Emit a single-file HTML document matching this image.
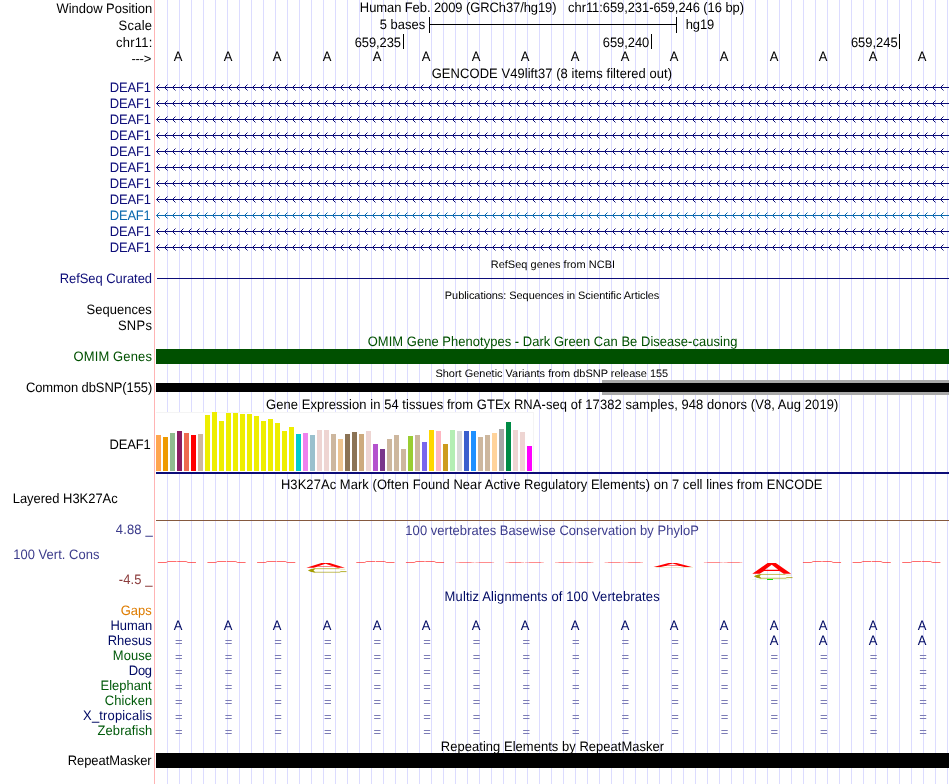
<!DOCTYPE html>
<html><head><meta charset="utf-8"><title>UCSC Genome Browser</title>
<style>
html,body{margin:0;padding:0;background:#fff;}
body{width:950px;height:784px;overflow:hidden;position:relative;font-family:"Liberation Sans",sans-serif;}
svg{position:absolute;left:0;top:0;}
#tx{position:absolute;left:0;top:0;width:950px;height:784px;will-change:transform;}
.t{position:absolute;white-space:pre;font-size:13px;line-height:16px;height:16px;color:#000;transform-origin:0 12px;}
.s{font-size:11px;}
.b{color:#000a64;width:40px;text-align:center;transform:translateY(.7px) scaleY(1.05) skewX(.3deg);}
.b2{transform:translateY(0px) scaleY(1.05) skewX(.3deg);}
.e{color:#7c7cb6;}
</style></head><body>
<svg width="950" height="784" viewBox="0 0 950 784">
<path d="M167.5,0V784M179.5,0V784M191.5,0V784M203.5,0V784M215.5,0V784M227.5,0V784M239.5,0V784M251.5,0V784M263.5,0V784M275.5,0V784M287.5,0V784M299.5,0V784M311.5,0V784M323.5,0V784M335.5,0V784M347.5,0V784M359.5,0V784M371.5,0V784M383.5,0V784M395.5,0V784M407.5,0V784M419.5,0V784M431.5,0V784M443.5,0V784M455.5,0V784M467.5,0V784M479.5,0V784M491.5,0V784M503.5,0V784M515.5,0V784M527.5,0V784M539.5,0V784M551.5,0V784M563.5,0V784M575.5,0V784M587.5,0V784M599.5,0V784M611.5,0V784M623.5,0V784M635.5,0V784M647.5,0V784M659.5,0V784M671.5,0V784M683.5,0V784M695.5,0V784M707.5,0V784M719.5,0V784M731.5,0V784M743.5,0V784M755.5,0V784M767.5,0V784M779.5,0V784M791.5,0V784M803.5,0V784M815.5,0V784M827.5,0V784M839.5,0V784M851.5,0V784M863.5,0V784M875.5,0V784M887.5,0V784M899.5,0V784M911.5,0V784M923.5,0V784M935.5,0V784M947.5,0V784" stroke="#dcdcff" stroke-width="1" fill="none" shape-rendering="crispEdges"/>
<rect x="154" y="0" width="1" height="784" fill="#ffb4b4" shape-rendering="crispEdges"/>
<rect x="156" y="412" width="378" height="60" fill="#fff" shape-rendering="crispEdges"/>
<path d="M156,412.5H533.5V472" stroke="#f4f4f4" fill="none" shape-rendering="crispEdges"/>
</svg>
<div id="tx">
<div id="t1" class="t" style="left:56px;top:0px;transform:translate(0.39px,0.80px) scaleY(1.05) skewX(.3deg);letter-spacing:-0.019px;">Window Position</div>
<div id="t2" class="t" style="left:118px;top:17px;transform:translate(0.54px,0.80px) scaleY(1.05) skewX(.3deg);letter-spacing:0.250px;">Scale</div>
<div id="t3" class="t" style="left:116px;top:34px;transform:translate(0.05px,0.70px) scaleY(1.05) skewX(.3deg);letter-spacing:0.250px;">chr11:</div>
<div id="t4" class="t n" style="left:131.45px;top:51px;letter-spacing:-0.250px;">---&gt;</div>
<div id="t5" class="t" style="left:109px;top:79px;transform:translate(0.83px,0.50px) scaleY(1.05) skewX(.3deg);letter-spacing:-0.190px;color:#0c0c78;">DEAF1</div>
<div id="t6" class="t" style="left:109px;top:95px;transform:translate(0.83px,0.50px) scaleY(1.05) skewX(.3deg);letter-spacing:-0.190px;color:#0c0c78;">DEAF1</div>
<div id="t7" class="t" style="left:109px;top:111px;transform:translate(0.83px,0.50px) scaleY(1.05) skewX(.3deg);letter-spacing:-0.190px;color:#0c0c78;">DEAF1</div>
<div id="t8" class="t" style="left:109px;top:127px;transform:translate(0.83px,0.50px) scaleY(1.05) skewX(.3deg);letter-spacing:-0.190px;color:#0c0c78;">DEAF1</div>
<div id="t9" class="t" style="left:109px;top:143px;transform:translate(0.83px,0.50px) scaleY(1.05) skewX(.3deg);letter-spacing:-0.190px;color:#0c0c78;">DEAF1</div>
<div id="t10" class="t" style="left:109px;top:159px;transform:translate(0.83px,0.50px) scaleY(1.05) skewX(.3deg);letter-spacing:-0.190px;color:#0c0c78;">DEAF1</div>
<div id="t11" class="t" style="left:109px;top:175px;transform:translate(0.83px,0.50px) scaleY(1.05) skewX(.3deg);letter-spacing:-0.190px;color:#0c0c78;">DEAF1</div>
<div id="t12" class="t" style="left:109px;top:191px;transform:translate(0.83px,0.50px) scaleY(1.05) skewX(.3deg);letter-spacing:-0.190px;color:#0c0c78;">DEAF1</div>
<div id="t13" class="t" style="left:109px;top:207px;transform:translate(0.82px,0.50px) scaleY(1.05) skewX(.3deg);letter-spacing:-0.250px;color:#0b69ae;">DEAF1</div>
<div id="t14" class="t" style="left:109px;top:223px;transform:translate(0.83px,0.50px) scaleY(1.05) skewX(.3deg);letter-spacing:-0.190px;color:#0c0c78;">DEAF1</div>
<div id="t15" class="t" style="left:109px;top:239px;transform:translate(0.83px,0.50px) scaleY(1.05) skewX(.3deg);letter-spacing:-0.190px;color:#0c0c78;">DEAF1</div>
<div id="t16" class="t" style="left:59px;top:270px;transform:translate(0.65px,0.80px) scaleY(1.05) skewX(.3deg);letter-spacing:-0.062px;color:#0c0c78;">RefSeq Curated</div>
<div id="t17" class="t" style="left:86px;top:301px;transform:translate(0.49px,0.80px) scaleY(1.05) skewX(.3deg);letter-spacing:0.041px;">Sequences</div>
<div id="t18" class="t" style="left:117px;top:317px;transform:translate(0.92px,0.80px) scaleY(1.05) skewX(.3deg);letter-spacing:0.250px;">SNPs</div>
<div id="t19" class="t" style="left:73px;top:349px;transform:translate(0.55px,0.00px) scaleY(1.05) skewX(.3deg);letter-spacing:0.115px;color:#005000;">OMIM Genes</div>
<div id="t20" class="t" style="left:25px;top:380px;transform:translate(0.94px,0.00px) scaleY(1.05) skewX(.3deg);letter-spacing:-0.100px;">Common dbSNP(155)</div>
<div id="t21" class="t" style="left:109px;top:436px;transform:translate(0.54px,0.80px) scaleY(1.05) skewX(.3deg);letter-spacing:-0.163px;">DEAF1</div>
<div id="t22" class="t" style="left:12px;top:490px;transform:translate(0.73px,0.90px) scaleY(1.05) skewX(.3deg);letter-spacing:-0.037px;">Layered H3K27Ac</div>
<div id="t23" class="t" style="left:115px;top:522px;transform:translate(0.76px,0.00px) scaleY(1.05) skewX(.3deg);letter-spacing:0.159px;color:#3c3c8c;">4.88 _</div>
<div id="t24" class="t" style="left:13px;top:546px;transform:translate(0.15px,0.80px) scaleY(1.05) skewX(.3deg);letter-spacing:0.023px;color:#3c3c8c;">100 Vert. Cons</div>
<div id="t25" class="t" style="left:118px;top:572px;transform:translate(0.70px,0.00px) scaleY(1.05) skewX(.3deg);letter-spacing:0.123px;color:#8c3c3c;">-4.5 _</div>
<div id="t26" class="t" style="left:120px;top:602px;transform:translate(0.66px,0.60px) scaleY(1.05) skewX(.3deg);letter-spacing:0.023px;color:#de7c00;">Gaps</div>
<div id="t27" class="t" style="left:110px;top:617px;transform:translate(0.38px,0.80px) scaleY(1.05) skewX(.3deg);letter-spacing:-0.015px;color:#000a64;">Human</div>
<div id="t28" class="t" style="left:107px;top:632px;transform:translate(0.64px,0.80px) scaleY(1.05) skewX(.3deg);letter-spacing:0.030px;color:#000a64;">Rhesus</div>
<div id="t29" class="t" style="left:112px;top:647px;transform:translate(0.80px,0.80px) scaleY(1.05) skewX(.3deg);letter-spacing:0.059px;color:#005a0a;">Mouse</div>
<div id="t30" class="t" style="left:128px;top:662px;transform:translate(0.75px,0.80px) scaleY(1.05) skewX(.3deg);letter-spacing:-0.250px;color:#000a64;">Dog</div>
<div id="t31" class="t" style="left:100px;top:677px;transform:translate(0.60px,0.80px) scaleY(1.05) skewX(.3deg);letter-spacing:-0.039px;color:#005a0a;">Elephant</div>
<div id="t32" class="t" style="left:104px;top:692px;transform:translate(0.70px,0.80px) scaleY(1.05) skewX(.3deg);letter-spacing:0.091px;color:#005a0a;">Chicken</div>
<div id="t33" class="t" style="left:83px;top:707px;transform:translate(0.10px,0.80px) scaleY(1.05) skewX(.3deg);letter-spacing:0.151px;color:#000a64;">X_tropicalis</div>
<div id="t34" class="t" style="left:97px;top:722px;transform:translate(0.59px,0.80px) scaleY(1.05) skewX(.3deg);letter-spacing:0.050px;color:#005a0a;">Zebrafish</div>
<div id="t35" class="t" style="left:67px;top:752px;transform:translate(0.67px,0.70px) scaleY(1.05) skewX(.3deg);letter-spacing:-0.049px;">RepeatMasker</div>
<div id="t36" class="t" style="left:359px;top:-1px;transform:translate(0.84px,0.70px) scaleY(1.05) skewX(.3deg);letter-spacing:-0.097px;">Human Feb. 2009 (GRCh37/hg19)</div>
<div id="t37" class="t" style="left:568px;top:-1px;transform:translate(0.06px,0.70px) scaleY(1.05) skewX(.3deg);letter-spacing:-0.081px;">chr11:659,231-659,246 (16 bp)</div>
<div id="t38" class="t" style="left:431px;top:65px;transform:translate(0.70px,0.80px) scaleY(1.05) skewX(.3deg);letter-spacing:0.051px;">GENCODE V49lift37 (8 items filtered out)</div>
<div id="t39" class="t s" style="left:490px;top:255px;transform:translate(0.68px,0.60px) scaleY(.98) skewX(.3deg);letter-spacing:0.012px;">RefSeq genes from NCBI</div>
<div id="t40" class="t s" style="left:444px;top:286px;transform:translate(0.81px,0.70px) scaleY(.98) skewX(.3deg);letter-spacing:-0.069px;">Publications: Sequences in Scientific Articles</div>
<div id="t41" class="t" style="left:367px;top:334px;transform:translate(0.65px,0.50px) scaleY(1.05) skewX(.3deg);letter-spacing:0.023px;color:#005000;">OMIM Gene Phenotypes - Dark Green Can Be Disease-causing</div>
<div id="t42" class="t s" style="left:435px;top:364px;transform:translate(0.39px,0.60px) scaleY(.98) skewX(.3deg);letter-spacing:-0.007px;">Short Genetic Variants from dbSNP release 155</div>
<div id="t43" class="t" style="left:266px;top:396px;transform:translate(0.00px,0.60px) scaleY(1.05) skewX(.3deg);letter-spacing:0.056px;">Gene Expression in 54 tissues from GTEx RNA-seq of 17382 samples, 948 donors (V8, Aug 2019)</div>
<div id="t44" class="t" style="left:280px;top:476px;transform:translate(0.92px,0.70px) scaleY(1.05) skewX(.3deg);letter-spacing:0.048px;">H3K27Ac Mark (Often Found Near Active Regulatory Elements) on 7 cell lines from ENCODE</div>
<div id="t45" class="t" style="left:405px;top:522px;transform:translate(0.35px,0.50px) scaleY(1.05) skewX(.3deg);letter-spacing:0.035px;color:#3c3c8c;">100 vertebrates Basewise Conservation by PhyloP</div>
<div id="t46" class="t" style="left:444px;top:588px;transform:translate(0.60px,0.60px) scaleY(1.05) skewX(.3deg);letter-spacing:0.115px;color:#000a64;">Multiz Alignments of 100 Vertebrates</div>
<div id="t47" class="t" style="left:440px;top:738px;transform:translate(0.83px,0.70px) scaleY(1.05) skewX(.3deg);letter-spacing:0.024px;">Repeating Elements by RepeatMasker</div>
<div id="t48" class="t" style="left:379px;top:16px;transform:translate(0.77px,0.90px) scaleY(1.05) skewX(.3deg);letter-spacing:-0.019px;">5 bases</div>
<div id="t49" class="t" style="left:685px;top:16px;transform:translate(0.78px,0.90px) scaleY(1.05) skewX(.3deg);letter-spacing:-0.151px;">hg19</div>
<div id="t50" class="t" style="left:354px;top:34px;transform:translate(0.74px,0.80px) scaleY(1.05) skewX(.3deg);letter-spacing:-0.121px;">659,235</div>
<div id="t51" class="t" style="left:602px;top:34px;transform:translate(0.82px,0.80px) scaleY(1.05) skewX(.3deg);letter-spacing:-0.089px;">659,240</div>
<div id="t52" class="t" style="left:850px;top:34px;transform:translate(0.90px,0.80px) scaleY(1.05) skewX(.3deg);letter-spacing:-0.036px;">659,245</div>
<div class="t b" style="left:158.00px;top:48px;color:#000">A</div>
<div class="t b b2" style="left:158.00px;top:618px">A</div>
<div class="t b e" style="left:158.80px;top:634px;transform:none">=</div>
<div class="t b e" style="left:158.80px;top:649px;transform:none">=</div>
<div class="t b e" style="left:158.80px;top:664px;transform:none">=</div>
<div class="t b e" style="left:158.80px;top:679px;transform:none">=</div>
<div class="t b e" style="left:158.80px;top:694px;transform:none">=</div>
<div class="t b e" style="left:158.80px;top:709px;transform:none">=</div>
<div class="t b e" style="left:158.80px;top:724px;transform:none">=</div>
<div class="t b" style="left:207.62px;top:48px;color:#000">A</div>
<div class="t b b2" style="left:207.62px;top:618px">A</div>
<div class="t b e" style="left:208.43px;top:634px;transform:none">=</div>
<div class="t b e" style="left:208.43px;top:649px;transform:none">=</div>
<div class="t b e" style="left:208.43px;top:664px;transform:none">=</div>
<div class="t b e" style="left:208.43px;top:679px;transform:none">=</div>
<div class="t b e" style="left:208.43px;top:694px;transform:none">=</div>
<div class="t b e" style="left:208.43px;top:709px;transform:none">=</div>
<div class="t b e" style="left:208.43px;top:724px;transform:none">=</div>
<div class="t b" style="left:257.25px;top:48px;color:#000">A</div>
<div class="t b b2" style="left:257.25px;top:618px">A</div>
<div class="t b e" style="left:258.05px;top:634px;transform:none">=</div>
<div class="t b e" style="left:258.05px;top:649px;transform:none">=</div>
<div class="t b e" style="left:258.05px;top:664px;transform:none">=</div>
<div class="t b e" style="left:258.05px;top:679px;transform:none">=</div>
<div class="t b e" style="left:258.05px;top:694px;transform:none">=</div>
<div class="t b e" style="left:258.05px;top:709px;transform:none">=</div>
<div class="t b e" style="left:258.05px;top:724px;transform:none">=</div>
<div class="t b" style="left:306.88px;top:48px;color:#000">A</div>
<div class="t b b2" style="left:306.88px;top:618px">A</div>
<div class="t b e" style="left:307.68px;top:634px;transform:none">=</div>
<div class="t b e" style="left:307.68px;top:649px;transform:none">=</div>
<div class="t b e" style="left:307.68px;top:664px;transform:none">=</div>
<div class="t b e" style="left:307.68px;top:679px;transform:none">=</div>
<div class="t b e" style="left:307.68px;top:694px;transform:none">=</div>
<div class="t b e" style="left:307.68px;top:709px;transform:none">=</div>
<div class="t b e" style="left:307.68px;top:724px;transform:none">=</div>
<div class="t b" style="left:356.50px;top:48px;color:#000">A</div>
<div class="t b b2" style="left:356.50px;top:618px">A</div>
<div class="t b e" style="left:357.30px;top:634px;transform:none">=</div>
<div class="t b e" style="left:357.30px;top:649px;transform:none">=</div>
<div class="t b e" style="left:357.30px;top:664px;transform:none">=</div>
<div class="t b e" style="left:357.30px;top:679px;transform:none">=</div>
<div class="t b e" style="left:357.30px;top:694px;transform:none">=</div>
<div class="t b e" style="left:357.30px;top:709px;transform:none">=</div>
<div class="t b e" style="left:357.30px;top:724px;transform:none">=</div>
<div class="t b" style="left:406.12px;top:48px;color:#000">A</div>
<div class="t b b2" style="left:406.12px;top:618px">A</div>
<div class="t b e" style="left:406.93px;top:634px;transform:none">=</div>
<div class="t b e" style="left:406.93px;top:649px;transform:none">=</div>
<div class="t b e" style="left:406.93px;top:664px;transform:none">=</div>
<div class="t b e" style="left:406.93px;top:679px;transform:none">=</div>
<div class="t b e" style="left:406.93px;top:694px;transform:none">=</div>
<div class="t b e" style="left:406.93px;top:709px;transform:none">=</div>
<div class="t b e" style="left:406.93px;top:724px;transform:none">=</div>
<div class="t b" style="left:455.75px;top:48px;color:#000">A</div>
<div class="t b b2" style="left:455.75px;top:618px">A</div>
<div class="t b e" style="left:456.55px;top:634px;transform:none">=</div>
<div class="t b e" style="left:456.55px;top:649px;transform:none">=</div>
<div class="t b e" style="left:456.55px;top:664px;transform:none">=</div>
<div class="t b e" style="left:456.55px;top:679px;transform:none">=</div>
<div class="t b e" style="left:456.55px;top:694px;transform:none">=</div>
<div class="t b e" style="left:456.55px;top:709px;transform:none">=</div>
<div class="t b e" style="left:456.55px;top:724px;transform:none">=</div>
<div class="t b" style="left:505.38px;top:48px;color:#000">A</div>
<div class="t b b2" style="left:505.38px;top:618px">A</div>
<div class="t b e" style="left:506.18px;top:634px;transform:none">=</div>
<div class="t b e" style="left:506.18px;top:649px;transform:none">=</div>
<div class="t b e" style="left:506.18px;top:664px;transform:none">=</div>
<div class="t b e" style="left:506.18px;top:679px;transform:none">=</div>
<div class="t b e" style="left:506.18px;top:694px;transform:none">=</div>
<div class="t b e" style="left:506.18px;top:709px;transform:none">=</div>
<div class="t b e" style="left:506.18px;top:724px;transform:none">=</div>
<div class="t b" style="left:555.00px;top:48px;color:#000">A</div>
<div class="t b b2" style="left:555.00px;top:618px">A</div>
<div class="t b e" style="left:555.80px;top:634px;transform:none">=</div>
<div class="t b e" style="left:555.80px;top:649px;transform:none">=</div>
<div class="t b e" style="left:555.80px;top:664px;transform:none">=</div>
<div class="t b e" style="left:555.80px;top:679px;transform:none">=</div>
<div class="t b e" style="left:555.80px;top:694px;transform:none">=</div>
<div class="t b e" style="left:555.80px;top:709px;transform:none">=</div>
<div class="t b e" style="left:555.80px;top:724px;transform:none">=</div>
<div class="t b" style="left:604.62px;top:48px;color:#000">A</div>
<div class="t b b2" style="left:604.62px;top:618px">A</div>
<div class="t b e" style="left:605.42px;top:634px;transform:none">=</div>
<div class="t b e" style="left:605.42px;top:649px;transform:none">=</div>
<div class="t b e" style="left:605.42px;top:664px;transform:none">=</div>
<div class="t b e" style="left:605.42px;top:679px;transform:none">=</div>
<div class="t b e" style="left:605.42px;top:694px;transform:none">=</div>
<div class="t b e" style="left:605.42px;top:709px;transform:none">=</div>
<div class="t b e" style="left:605.42px;top:724px;transform:none">=</div>
<div class="t b" style="left:654.25px;top:48px;color:#000">A</div>
<div class="t b b2" style="left:654.25px;top:618px">A</div>
<div class="t b e" style="left:655.05px;top:634px;transform:none">=</div>
<div class="t b e" style="left:655.05px;top:649px;transform:none">=</div>
<div class="t b e" style="left:655.05px;top:664px;transform:none">=</div>
<div class="t b e" style="left:655.05px;top:679px;transform:none">=</div>
<div class="t b e" style="left:655.05px;top:694px;transform:none">=</div>
<div class="t b e" style="left:655.05px;top:709px;transform:none">=</div>
<div class="t b e" style="left:655.05px;top:724px;transform:none">=</div>
<div class="t b" style="left:703.88px;top:48px;color:#000">A</div>
<div class="t b b2" style="left:703.88px;top:618px">A</div>
<div class="t b e" style="left:704.67px;top:634px;transform:none">=</div>
<div class="t b e" style="left:704.67px;top:649px;transform:none">=</div>
<div class="t b e" style="left:704.67px;top:664px;transform:none">=</div>
<div class="t b e" style="left:704.67px;top:679px;transform:none">=</div>
<div class="t b e" style="left:704.67px;top:694px;transform:none">=</div>
<div class="t b e" style="left:704.67px;top:709px;transform:none">=</div>
<div class="t b e" style="left:704.67px;top:724px;transform:none">=</div>
<div class="t b" style="left:753.50px;top:48px;color:#000">A</div>
<div class="t b b2" style="left:753.50px;top:618px">A</div>
<div class="t b b2" style="left:753.50px;top:633px">A</div>
<div class="t b e" style="left:754.30px;top:649px;transform:none">=</div>
<div class="t b e" style="left:754.30px;top:664px;transform:none">=</div>
<div class="t b e" style="left:754.30px;top:679px;transform:none">=</div>
<div class="t b e" style="left:754.30px;top:694px;transform:none">=</div>
<div class="t b e" style="left:754.30px;top:709px;transform:none">=</div>
<div class="t b e" style="left:754.30px;top:724px;transform:none">=</div>
<div class="t b" style="left:803.12px;top:48px;color:#000">A</div>
<div class="t b b2" style="left:803.12px;top:618px">A</div>
<div class="t b b2" style="left:803.12px;top:633px">A</div>
<div class="t b e" style="left:803.92px;top:649px;transform:none">=</div>
<div class="t b e" style="left:803.92px;top:664px;transform:none">=</div>
<div class="t b e" style="left:803.92px;top:679px;transform:none">=</div>
<div class="t b e" style="left:803.92px;top:694px;transform:none">=</div>
<div class="t b e" style="left:803.92px;top:709px;transform:none">=</div>
<div class="t b e" style="left:803.92px;top:724px;transform:none">=</div>
<div class="t b" style="left:852.75px;top:48px;color:#000">A</div>
<div class="t b b2" style="left:852.75px;top:618px">A</div>
<div class="t b b2" style="left:852.75px;top:633px">A</div>
<div class="t b e" style="left:853.55px;top:649px;transform:none">=</div>
<div class="t b e" style="left:853.55px;top:664px;transform:none">=</div>
<div class="t b e" style="left:853.55px;top:679px;transform:none">=</div>
<div class="t b e" style="left:853.55px;top:694px;transform:none">=</div>
<div class="t b e" style="left:853.55px;top:709px;transform:none">=</div>
<div class="t b e" style="left:853.55px;top:724px;transform:none">=</div>
<div class="t b" style="left:902.38px;top:48px;color:#000">A</div>
<div class="t b b2" style="left:902.38px;top:618px">A</div>
<div class="t b b2" style="left:902.38px;top:633px">A</div>
<div class="t b e" style="left:903.17px;top:649px;transform:none">=</div>
<div class="t b e" style="left:903.17px;top:664px;transform:none">=</div>
<div class="t b e" style="left:903.17px;top:679px;transform:none">=</div>
<div class="t b e" style="left:903.17px;top:694px;transform:none">=</div>
<div class="t b e" style="left:903.17px;top:709px;transform:none">=</div>
<div class="t b e" style="left:903.17px;top:724px;transform:none">=</div>
</div>
<svg width="950" height="784" viewBox="0 0 950 784">
<path d="M429.5,17V33M429,24.5H677M676.5,17V33M403.5,34V49M651.5,34V49M899.5,34V49" stroke="#000" stroke-width="1" shape-rendering="crispEdges"/>
<defs><path id="bb" d="M159.5,-2.5L156.5,.5L159.5,3.5M167.5,-2.5L164.5,.5L167.5,3.5M175.5,-2.5L172.5,.5L175.5,3.5M183.5,-2.5L180.5,.5L183.5,3.5M191.5,-2.5L188.5,.5L191.5,3.5M199.5,-2.5L196.5,.5L199.5,3.5M207.5,-2.5L204.5,.5L207.5,3.5M215.5,-2.5L212.5,.5L215.5,3.5M223.5,-2.5L220.5,.5L223.5,3.5M231.5,-2.5L228.5,.5L231.5,3.5M239.5,-2.5L236.5,.5L239.5,3.5M247.5,-2.5L244.5,.5L247.5,3.5M255.5,-2.5L252.5,.5L255.5,3.5M263.5,-2.5L260.5,.5L263.5,3.5M271.5,-2.5L268.5,.5L271.5,3.5M279.5,-2.5L276.5,.5L279.5,3.5M287.5,-2.5L284.5,.5L287.5,3.5M295.5,-2.5L292.5,.5L295.5,3.5M303.5,-2.5L300.5,.5L303.5,3.5M311.5,-2.5L308.5,.5L311.5,3.5M319.5,-2.5L316.5,.5L319.5,3.5M327.5,-2.5L324.5,.5L327.5,3.5M335.5,-2.5L332.5,.5L335.5,3.5M343.5,-2.5L340.5,.5L343.5,3.5M351.5,-2.5L348.5,.5L351.5,3.5M359.5,-2.5L356.5,.5L359.5,3.5M367.5,-2.5L364.5,.5L367.5,3.5M375.5,-2.5L372.5,.5L375.5,3.5M383.5,-2.5L380.5,.5L383.5,3.5M391.5,-2.5L388.5,.5L391.5,3.5M399.5,-2.5L396.5,.5L399.5,3.5M407.5,-2.5L404.5,.5L407.5,3.5M415.5,-2.5L412.5,.5L415.5,3.5M423.5,-2.5L420.5,.5L423.5,3.5M431.5,-2.5L428.5,.5L431.5,3.5M439.5,-2.5L436.5,.5L439.5,3.5M447.5,-2.5L444.5,.5L447.5,3.5M455.5,-2.5L452.5,.5L455.5,3.5M463.5,-2.5L460.5,.5L463.5,3.5M471.5,-2.5L468.5,.5L471.5,3.5M479.5,-2.5L476.5,.5L479.5,3.5M487.5,-2.5L484.5,.5L487.5,3.5M495.5,-2.5L492.5,.5L495.5,3.5M503.5,-2.5L500.5,.5L503.5,3.5M511.5,-2.5L508.5,.5L511.5,3.5M519.5,-2.5L516.5,.5L519.5,3.5M527.5,-2.5L524.5,.5L527.5,3.5M535.5,-2.5L532.5,.5L535.5,3.5M543.5,-2.5L540.5,.5L543.5,3.5M551.5,-2.5L548.5,.5L551.5,3.5M559.5,-2.5L556.5,.5L559.5,3.5M567.5,-2.5L564.5,.5L567.5,3.5M575.5,-2.5L572.5,.5L575.5,3.5M583.5,-2.5L580.5,.5L583.5,3.5M591.5,-2.5L588.5,.5L591.5,3.5M599.5,-2.5L596.5,.5L599.5,3.5M607.5,-2.5L604.5,.5L607.5,3.5M615.5,-2.5L612.5,.5L615.5,3.5M623.5,-2.5L620.5,.5L623.5,3.5M631.5,-2.5L628.5,.5L631.5,3.5M639.5,-2.5L636.5,.5L639.5,3.5M647.5,-2.5L644.5,.5L647.5,3.5M655.5,-2.5L652.5,.5L655.5,3.5M663.5,-2.5L660.5,.5L663.5,3.5M671.5,-2.5L668.5,.5L671.5,3.5M679.5,-2.5L676.5,.5L679.5,3.5M687.5,-2.5L684.5,.5L687.5,3.5M695.5,-2.5L692.5,.5L695.5,3.5M703.5,-2.5L700.5,.5L703.5,3.5M711.5,-2.5L708.5,.5L711.5,3.5M719.5,-2.5L716.5,.5L719.5,3.5M727.5,-2.5L724.5,.5L727.5,3.5M735.5,-2.5L732.5,.5L735.5,3.5M743.5,-2.5L740.5,.5L743.5,3.5M751.5,-2.5L748.5,.5L751.5,3.5M759.5,-2.5L756.5,.5L759.5,3.5M767.5,-2.5L764.5,.5L767.5,3.5M775.5,-2.5L772.5,.5L775.5,3.5M783.5,-2.5L780.5,.5L783.5,3.5M791.5,-2.5L788.5,.5L791.5,3.5M799.5,-2.5L796.5,.5L799.5,3.5M807.5,-2.5L804.5,.5L807.5,3.5M815.5,-2.5L812.5,.5L815.5,3.5M823.5,-2.5L820.5,.5L823.5,3.5M831.5,-2.5L828.5,.5L831.5,3.5M839.5,-2.5L836.5,.5L839.5,3.5M847.5,-2.5L844.5,.5L847.5,3.5M855.5,-2.5L852.5,.5L855.5,3.5M863.5,-2.5L860.5,.5L863.5,3.5M871.5,-2.5L868.5,.5L871.5,3.5M879.5,-2.5L876.5,.5L879.5,3.5M887.5,-2.5L884.5,.5L887.5,3.5M895.5,-2.5L892.5,.5L895.5,3.5M903.5,-2.5L900.5,.5L903.5,3.5M911.5,-2.5L908.5,.5L911.5,3.5M919.5,-2.5L916.5,.5L919.5,3.5M927.5,-2.5L924.5,.5L927.5,3.5M935.5,-2.5L932.5,.5L935.5,3.5M943.5,-2.5L940.5,.5L943.5,3.5" fill="none" stroke-width="1"/></defs>
<rect x="156.5" y="87" width="792.5" height="1" fill="#0c0c78"/><use href="#bb" y="87" stroke="#0c0c78"/>
<rect x="156.5" y="103" width="792.5" height="1" fill="#0c0c78"/><use href="#bb" y="103" stroke="#0c0c78"/>
<rect x="156.5" y="119" width="792.5" height="1" fill="#0c0c78"/><use href="#bb" y="119" stroke="#0c0c78"/>
<rect x="156.5" y="135" width="792.5" height="1" fill="#0c0c78"/><use href="#bb" y="135" stroke="#0c0c78"/>
<rect x="156.5" y="151" width="792.5" height="1" fill="#0c0c78"/><use href="#bb" y="151" stroke="#0c0c78"/>
<rect x="156.5" y="167" width="792.5" height="1" fill="#0c0c78"/><use href="#bb" y="167" stroke="#0c0c78"/>
<rect x="156.5" y="183" width="792.5" height="1" fill="#0c0c78"/><use href="#bb" y="183" stroke="#0c0c78"/>
<rect x="156.5" y="199" width="792.5" height="1" fill="#0c0c78"/><use href="#bb" y="199" stroke="#0c0c78"/>
<rect x="156.5" y="215" width="792.5" height="1" fill="#0b69ae"/><use href="#bb" y="215" stroke="#0b69ae"/>
<rect x="156.5" y="231" width="792.5" height="1" fill="#0c0c78"/><use href="#bb" y="231" stroke="#0c0c78"/>
<rect x="156.5" y="247" width="792.5" height="1" fill="#0c0c78"/><use href="#bb" y="247" stroke="#0c0c78"/>
<rect x="157" y="278" width="792" height="1" fill="#0c0c78" shape-rendering="crispEdges"/>
<rect x="156" y="349" width="793" height="15" fill="#005000" shape-rendering="crispEdges"/>
<rect x="602" y="380" width="347" height="15" fill="#a9a9a9" shape-rendering="crispEdges"/>
<rect x="156" y="383" width="793" height="9" fill="#000" shape-rendering="crispEdges"/>
<g shape-rendering="crispEdges">
<rect x="156" y="435" width="5" height="36" fill="#FFA54F"/>
<rect x="163" y="437" width="5" height="34" fill="#EE9A00"/>
<rect x="170" y="433" width="5" height="38" fill="#8FBC8F"/>
<rect x="177" y="431" width="5" height="40" fill="#8B1C62"/>
<rect x="184" y="433" width="5" height="38" fill="#EE6A50"/>
<rect x="191" y="435" width="5" height="36" fill="#FF0000"/>
<rect x="198" y="434" width="5" height="37" fill="#CDB79E"/>
<rect x="205" y="415" width="5" height="56" fill="#EEEE00"/>
<rect x="212" y="412" width="5" height="59" fill="#EEEE00"/>
<rect x="219" y="421" width="5" height="50" fill="#EEEE00"/>
<rect x="226" y="413" width="5" height="58" fill="#EEEE00"/>
<rect x="233" y="413" width="5" height="58" fill="#EEEE00"/>
<rect x="240" y="414" width="5" height="57" fill="#EEEE00"/>
<rect x="247" y="414" width="5" height="57" fill="#EEEE00"/>
<rect x="254" y="416" width="5" height="55" fill="#EEEE00"/>
<rect x="261" y="421" width="5" height="50" fill="#EEEE00"/>
<rect x="268" y="419" width="5" height="52" fill="#EEEE00"/>
<rect x="275" y="423" width="5" height="48" fill="#EEEE00"/>
<rect x="282" y="431" width="5" height="40" fill="#EEEE00"/>
<rect x="289" y="427" width="5" height="44" fill="#EEEE00"/>
<rect x="296" y="434" width="5" height="37" fill="#00CDCD"/>
<rect x="303" y="433" width="5" height="38" fill="#EE82EE"/>
<rect x="310" y="435" width="5" height="36" fill="#9AC0CD"/>
<rect x="317" y="430" width="5" height="41" fill="#EED5D2"/>
<rect x="324" y="430" width="5" height="41" fill="#EED5D2"/>
<rect x="331" y="434" width="5" height="37" fill="#CDB79E"/>
<rect x="338" y="439" width="5" height="32" fill="#EEC591"/>
<rect x="345" y="434" width="5" height="37" fill="#8B7355"/>
<rect x="352" y="432" width="5" height="39" fill="#8B7355"/>
<rect x="359" y="434" width="5" height="37" fill="#CDAA7D"/>
<rect x="366" y="431" width="5" height="40" fill="#EED5D2"/>
<rect x="373" y="444" width="5" height="27" fill="#B452CD"/>
<rect x="380" y="449" width="5" height="22" fill="#7A378B"/>
<rect x="387" y="439" width="5" height="32" fill="#CDB79E"/>
<rect x="394" y="435" width="5" height="36" fill="#CDB79E"/>
<rect x="401" y="449" width="5" height="22" fill="#CDB79E"/>
<rect x="408" y="436" width="5" height="35" fill="#9ACD32"/>
<rect x="415" y="435" width="5" height="36" fill="#CDB79E"/>
<rect x="422" y="442" width="5" height="29" fill="#7A67EE"/>
<rect x="429" y="430" width="5" height="41" fill="#FFD700"/>
<rect x="436" y="431" width="5" height="40" fill="#FFB6C1"/>
<rect x="443" y="444" width="5" height="27" fill="#CD9B1D"/>
<rect x="450" y="430" width="5" height="41" fill="#B4EEB4"/>
<rect x="457" y="431" width="5" height="40" fill="#D9D9D9"/>
<rect x="464" y="431" width="5" height="40" fill="#3A5FCD"/>
<rect x="471" y="431" width="5" height="40" fill="#1E90FF"/>
<rect x="478" y="437" width="5" height="34" fill="#CDB79E"/>
<rect x="485" y="435" width="5" height="36" fill="#CDB79E"/>
<rect x="492" y="433" width="5" height="38" fill="#FFD39B"/>
<rect x="499" y="429" width="5" height="42" fill="#A6A6A6"/>
<rect x="506" y="422" width="5" height="49" fill="#008B45"/>
<rect x="513" y="430" width="5" height="41" fill="#EED5D2"/>
<rect x="520" y="432" width="5" height="39" fill="#EED5D2"/>
<rect x="527" y="446" width="5" height="25" fill="#FF00FF"/>
</g>
<rect x="156" y="472" width="793" height="2" fill="#0c0c78" shape-rendering="crispEdges"/>
<rect x="156" y="520" width="793" height="1" fill="#85593f" shape-rendering="crispEdges"/>
<path d="M158.2,562.5H166.2L168.0,561.5H176.2M177.6,561.5H186.2L188.0,562.5H195.6" stroke="#ff0000" stroke-width="0.72" stroke-linecap="round" stroke-linejoin="round" fill="none" opacity="0.8"/>
<path d="M207.8,562.5H215.8L217.6,561.5H225.8M227.2,561.5H235.8L237.6,562.5H245.2" stroke="#ff0000" stroke-width="0.72" stroke-linecap="round" stroke-linejoin="round" fill="none" opacity="0.8"/>
<path d="M257.5,562.5H265.5L267.2,561.5H275.5M276.9,561.5H285.5L287.2,562.5H294.9" stroke="#ff0000" stroke-width="0.72" stroke-linecap="round" stroke-linejoin="round" fill="none" opacity="0.8"/>
<path d="M356.7,562.5H364.7L366.5,561.5H374.7M376.1,561.5H384.7L386.5,562.5H394.1" stroke="#ff0000" stroke-width="0.72" stroke-linecap="round" stroke-linejoin="round" fill="none" opacity="0.8"/>
<path d="M406.3,562.5H414.3L416.1,561.5H424.3M425.7,561.5H434.3L436.1,562.5H443.7" stroke="#ff0000" stroke-width="0.72" stroke-linecap="round" stroke-linejoin="round" fill="none" opacity="0.8"/>
<path d="M803.3,562.5H811.3L813.1,561.5H821.3M822.7,561.5H831.3L833.1,562.5H840.7" stroke="#ff0000" stroke-width="0.72" stroke-linecap="round" stroke-linejoin="round" fill="none" opacity="0.8"/>
<path d="M853.0,562.5H861.0L862.8,561.5H871.0M872.4,561.5H881.0L882.8,562.5H890.4" stroke="#ff0000" stroke-width="0.72" stroke-linecap="round" stroke-linejoin="round" fill="none" opacity="0.8"/>
<path d="M902.6,562.5H910.6L912.4,561.5H920.6M922.0,561.5H930.6L932.4,562.5H940.0" stroke="#ff0000" stroke-width="0.72" stroke-linecap="round" stroke-linejoin="round" fill="none" opacity="0.8"/>
<path d="M456.1,562.5h18m1.6,0h18M459.6,562.5h11.5m8.5,0h11.5" stroke="#ff0000" stroke-width="0.62" stroke-linecap="round" fill="none" opacity="0.42"/>
<path d="M505.8,562.5h18m1.6,0h18M509.3,562.5h11.5m8.5,0h11.5" stroke="#ff0000" stroke-width="0.62" stroke-linecap="round" fill="none" opacity="0.42"/>
<path d="M555.4,562.5h18m1.6,0h18M558.9,562.5h11.5m8.5,0h11.5" stroke="#ff0000" stroke-width="0.62" stroke-linecap="round" fill="none" opacity="0.42"/>
<path d="M605.0,562.5h18m1.6,0h18M608.5,562.5h11.5m8.5,0h11.5" stroke="#ff0000" stroke-width="0.62" stroke-linecap="round" fill="none" opacity="0.42"/>
<path d="M704.3,562.5h18m1.6,0h18M707.8,562.5h11.5m8.5,0h11.5" stroke="#ff0000" stroke-width="0.62" stroke-linecap="round" fill="none" opacity="0.42"/>
<path d="M306.30,567.70L321.47,562.90L329.61,562.90L344.90,567.70L337.57,567.70L333.20,566.45L318.00,566.45L313.63,567.70ZM318.81,565.88L325.56,563.70L332.08,565.88Z" fill="#ff0000" fill-rule="evenodd"/>
<path d="M339.4,568.65H314.9L308.9,570.45L314.9,572.25H339.4" stroke="#a39c00" stroke-width="0.8" fill="none" opacity="0.8"/><path d="M307.9,570.45L311.4,569.00L315.5,568.50L313.5,570.45L315.5,572.40L311.4,571.90Z" fill="#a39c00"/><path d="M339.4,568.65L340.9,569.30H345.2" stroke="#a39c00" stroke-width="0.6" fill="none" opacity="0.45"/><path d="M339.4,572.25L340.9,571.60H346.5" stroke="#a39c00" stroke-width="0.9" fill="none" opacity="0.9"/>
<path d="M653.50,567.00L668.55,562.90L676.63,562.90L691.80,567.00L684.52,567.00L680.20,565.93L665.10,565.93L660.78,567.00ZM665.91,565.44L672.61,563.58L679.08,565.44Z" fill="#ff0000" fill-rule="evenodd"/>
<path d="M655.7,567.4h37.2" stroke="#a39c00" stroke-width="0.5" opacity="0.4"/>
<path d="M752.30,573.80L767.59,563.00L775.80,563.00L791.20,573.80L783.81,573.80L779.41,570.99L764.09,570.99L759.69,573.80ZM764.90,569.70L771.71,564.80L778.29,569.70Z" fill="#ff0000" fill-rule="evenodd"/>
<path d="M785.4,574.45H760.9L754.9,576.35L760.9,578.25H785.4" stroke="#a39c00" stroke-width="0.8" fill="none" opacity="0.8"/><path d="M753.9,576.35L757.4,574.80L761.5,574.30L759.5,576.35L761.5,578.40L757.4,577.90Z" fill="#a39c00"/><path d="M785.4,574.45L786.9,575.10H791.2" stroke="#a39c00" stroke-width="0.6" fill="none" opacity="0.45"/><path d="M785.4,578.25L786.9,577.60H792.5" stroke="#a39c00" stroke-width="0.9" fill="none" opacity="0.9"/>
<rect x="767" y="579" width="6" height="1" fill="#00e600"/><path d="M752,579.5h37" stroke="#00e600" stroke-width="0.5" opacity="0.15"/>
<rect x="156" y="753" width="793" height="15" fill="#000" shape-rendering="crispEdges"/>
</svg>
</body></html>
